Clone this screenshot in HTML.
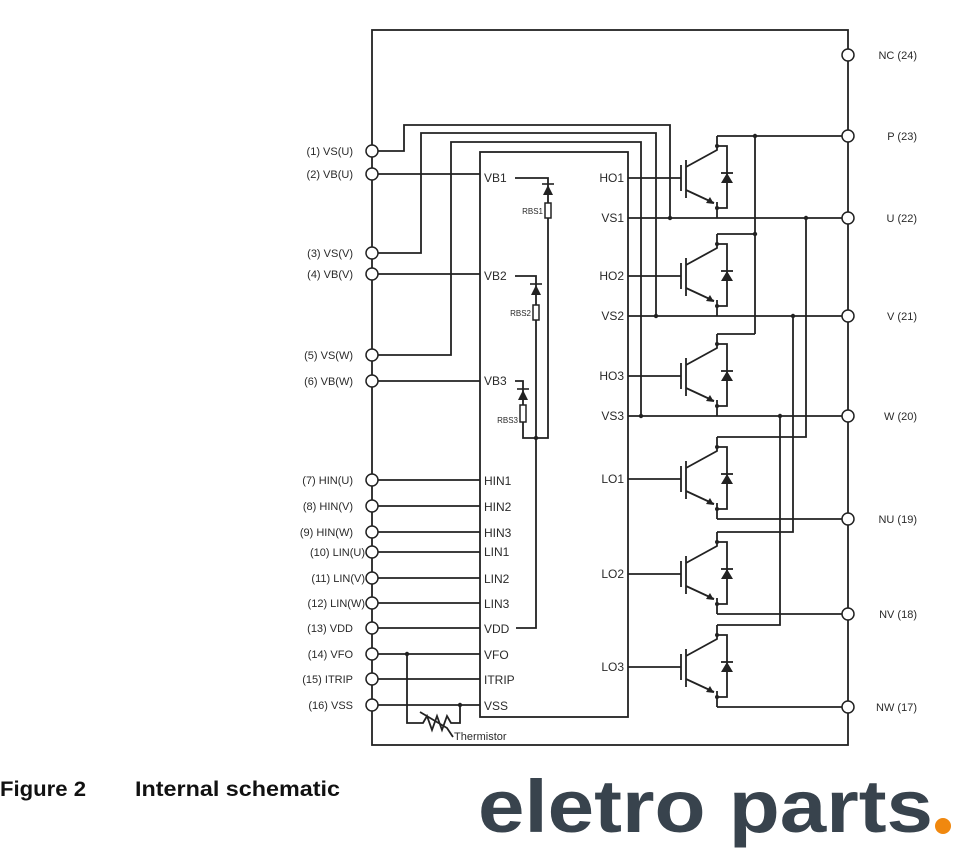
<!DOCTYPE html>
<html><head><meta charset="utf-8"><style>
html,body{margin:0;padding:0;background:#fff;}
svg{display:block;}
text{font-family:"Liberation Sans",sans-serif;fill:#2a2a2a;}
</style></head><body>
<svg width="980" height="860" viewBox="0 0 980 860" xmlns="http://www.w3.org/2000/svg">
<defs>
<g id="igbt" stroke="#222" stroke-width="1.8" fill="none">
  <line x1="681" y1="-13" x2="681" y2="13"/>
  <line x1="686" y1="-18" x2="686" y2="20"/>
  <path d="M717,-42 V-28 L686,-11"/>
  <path d="M717,-32 H727 V30 H717"/>
  <path d="M686,12 L714,25"/>
  <path d="M717,24 V40"/>
  <polygon points="714,26 706,25 710,19" fill="#222" stroke="none"/>
  <polygon points="721,5 733,5 727,-5" fill="#222" stroke="none"/>
  <line x1="721" y1="-5" x2="733" y2="-5"/>
  <circle cx="717" cy="-32" r="2" fill="#222" stroke="none"/>
  <circle cx="717" cy="30" r="2" fill="#222" stroke="none"/>
</g>
</defs>
<g stroke="#222" stroke-width="1.8" fill="none">
  <rect x="372" y="30" width="476" height="715"/>
  <rect x="480" y="152" width="148" height="565"/>
  <path d="M372,151 H404 V125 H670 V218"/>
  <path d="M372,253 H421 V133 H656 V316"/>
  <path d="M372,355 H451 V142 H641 V416"/>
  <path d="M372,174 H480 M372,274 H480 M372,381 H480"/>
  <path d="M372,480 H480 M372,506 H480 M372,532 H480 M372,552 H480 M372,578 H480 M372,603 H480 M372,628 H480 M372,654 H480 M372,679 H480 M372,705 H480"/>
  <path d="M628,178 H681 M628,276 H681 M628,376 H681 M628,479 H681 M628,574 H681 M628,667 H681"/>
  <path d="M628,218 H848 M628,316 H848 M628,416 H848"/>
  <path d="M717,136 H848 M755,136 V334 M717,234 H755 M717,334 H755"/>
  <path d="M806,218 V437 H717 M793,316 V532 H717 M780,416 V625 H717"/>
  <path d="M717,519 H848 M717,614 H848 M717,707 H848"/>
  <path d="M515,178 H548 V438 H523 V381 H515 M515,276 H536 V628 H516"/>
  <path d="M407,654 V723 H423 L427,716 L432,730 L437,716 L442,730 L447,716 L451,723 H460 V705"/>
  <path d="M420,712 L447,728 L453,737"/>
</g>
<g fill="#fff" stroke="#222" stroke-width="1.5">
  <rect x="545" y="203" width="6" height="15"/>
  <rect x="533" y="305" width="6" height="15"/>
  <rect x="520" y="405" width="6" height="17"/>
</g>
<g fill="#222" stroke="#222" stroke-width="1.6">
  <polygon points="543,195 553,195 548,185" stroke="none"/><line x1="542" y1="184" x2="554" y2="184"/>
  <polygon points="531,295 541,295 536,285" stroke="none"/><line x1="530" y1="284" x2="542" y2="284"/>
  <polygon points="518,400 528,400 523,390" stroke="none"/><line x1="517" y1="389" x2="529" y2="389"/>
  <g stroke="none">
  <circle cx="536" cy="438" r="2.2"/><circle cx="407" cy="654" r="2.2"/><circle cx="460" cy="705" r="2.2"/>
  <circle cx="670" cy="218" r="2.2"/><circle cx="656" cy="316" r="2.2"/><circle cx="641" cy="416" r="2.2"/>
  <circle cx="755" cy="136" r="2.2"/><circle cx="755" cy="234" r="2.2"/>
  <circle cx="806" cy="218" r="2.2"/><circle cx="793" cy="316" r="2.2"/><circle cx="780" cy="416" r="2.2"/>
  </g>
</g>
<use href="#igbt" transform="translate(0,178)"/>
<use href="#igbt" transform="translate(0,276)"/>
<use href="#igbt" transform="translate(0,376)"/>
<use href="#igbt" transform="translate(0,479)"/>
<use href="#igbt" transform="translate(0,574)"/>
<use href="#igbt" transform="translate(0,667)"/>
<g fill="#fff" stroke="#222" stroke-width="1.5">
  <circle cx="372" cy="151" r="6"/><circle cx="372" cy="174" r="6"/><circle cx="372" cy="253" r="6"/><circle cx="372" cy="274" r="6"/>
  <circle cx="372" cy="355" r="6"/><circle cx="372" cy="381" r="6"/><circle cx="372" cy="480" r="6"/><circle cx="372" cy="506" r="6"/>
  <circle cx="372" cy="532" r="6"/><circle cx="372" cy="552" r="6"/><circle cx="372" cy="578" r="6"/><circle cx="372" cy="603" r="6"/>
  <circle cx="372" cy="628" r="6"/><circle cx="372" cy="654" r="6"/><circle cx="372" cy="679" r="6"/><circle cx="372" cy="705" r="6"/>
  <circle cx="848" cy="55" r="6"/><circle cx="848" cy="136" r="6"/><circle cx="848" cy="218" r="6"/><circle cx="848" cy="316" r="6"/>
  <circle cx="848" cy="416" r="6"/><circle cx="848" cy="519" r="6"/><circle cx="848" cy="614" r="6"/><circle cx="848" cy="707" r="6"/>
</g>
<g font-size="11" text-anchor="end">
  <text x="353" y="155">(1) VS(U)</text><text x="353" y="178">(2) VB(U)</text>
  <text x="353" y="257">(3) VS(V)</text><text x="353" y="278">(4) VB(V)</text>
  <text x="353" y="359">(5) VS(W)</text><text x="353" y="385">(6) VB(W)</text>
  <text x="353" y="484">(7) HIN(U)</text><text x="353" y="510">(8) HIN(V)</text>
  <text x="353" y="536">(9) HIN(W)</text><text x="365" y="556">(10) LIN(U)</text>
  <text x="365" y="582">(11) LIN(V)</text><text x="365" y="607">(12) LIN(W)</text>
  <text x="353" y="632">(13) VDD</text><text x="353" y="658">(14) VFO</text>
  <text x="353" y="683">(15) ITRIP</text><text x="353" y="709">(16) VSS</text>
  <text x="917" y="59">NC (24)</text><text x="917" y="140">P (23)</text>
  <text x="917" y="222">U (22)</text><text x="917" y="320">V (21)</text>
  <text x="917" y="420">W (20)</text><text x="917" y="523">NU (19)</text>
  <text x="917" y="618">NV (18)</text><text x="917" y="711">NW (17)</text>
</g>
<g font-size="12">
  <text x="484" y="182">VB1</text><text x="484" y="280">VB2</text><text x="484" y="385">VB3</text>
  <text x="484" y="485">HIN1</text><text x="484" y="511">HIN2</text><text x="484" y="537">HIN3</text>
  <text x="484" y="556">LIN1</text><text x="484" y="583">LIN2</text><text x="484" y="608">LIN3</text>
  <text x="484" y="633">VDD</text><text x="484" y="659">VFO</text><text x="484" y="684">ITRIP</text><text x="484" y="710">VSS</text>
</g>
<g font-size="12" text-anchor="end">
  <text x="624" y="182">HO1</text><text x="624" y="222">VS1</text>
  <text x="624" y="280">HO2</text><text x="624" y="320">VS2</text>
  <text x="624" y="380">HO3</text><text x="624" y="420">VS3</text>
  <text x="624" y="483">LO1</text><text x="624" y="578">LO2</text><text x="624" y="671">LO3</text>
</g>
<g font-size="8" text-anchor="end">
  <text x="543" y="214">RBS1</text><text x="531" y="316">RBS2</text><text x="518" y="423">RBS3</text>
</g>
<text x="454" y="740" font-size="11">Thermistor</text>
<text x="0" y="796" font-size="21" font-weight="bold" textLength="86" lengthAdjust="spacingAndGlyphs" style="fill:#111">Figure 2</text>
<text x="135" y="796" font-size="21" font-weight="bold" textLength="205" lengthAdjust="spacingAndGlyphs" style="fill:#111">Internal schematic</text>
<text x="478" y="832" font-size="74" font-weight="bold" textLength="455" lengthAdjust="spacingAndGlyphs" style="fill:#38434d">eletro parts</text>
<circle cx="943" cy="826" r="8" fill="#f0880f"/>
</svg>
</body></html>
